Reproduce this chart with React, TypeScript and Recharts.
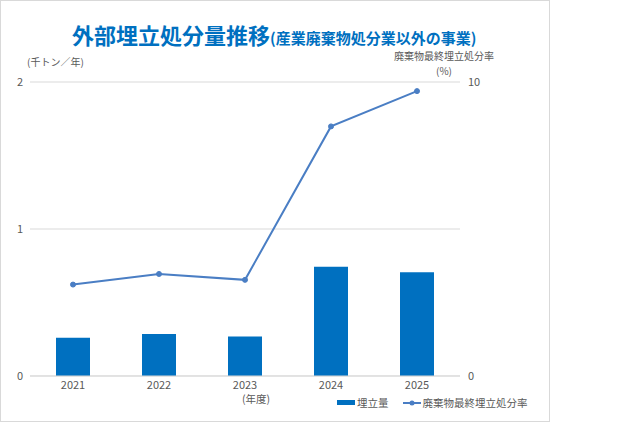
import {
	Bar,
	CartesianGrid,
	ComposedChart,
	Line,
	XAxis,
	YAxis,
} from "recharts";

const years = ["2021", "2022", "2023", "2024", "2025"];
const landfillAmount = [0.26, 0.285, 0.268, 0.744, 0.706]; // 千トン／年
const landfillRate = [3.11, 3.47, 3.27, 8.49, 9.69]; // %
const leftTicks = [0, 1, 2];
const rightTicks = [0, 10];

const data = years.map((year, i) => ({
	year,
	amount: landfillAmount[i],
	rate: landfillRate[i],
}));

const COLORS = {
	bar: "#0070C0",
	line: "#4A7EC4",
	title: "#0070C0",
	text: "#595959",
	grid: "#D9D9D9",
};

const FONT = '"Noto Sans CJK JP", "Noto Sans", sans-serif';

const tickStyle = { fill: COLORS.text, fontSize: 11, fontFamily: FONT };

export default function App() {
	return (
		<div
			style={{
				position: "absolute",
				left: 0,
				top: 0,
				width: 548,
				height: 420,
				border: `1px solid ${COLORS.grid}`,
				background: "#fff",
				fontFamily: FONT,
			}}
		>
			<div
				style={{
					position: "absolute",
					left: 71,
					top: 22,
					whiteSpace: "nowrap",
					color: COLORS.title,
					fontWeight: "bold",
					lineHeight: 1,
				}}
			>
				<span style={{ fontSize: 22 }}>外部埋立処分量推移</span>
				<span style={{ fontSize: 15 }}>(産業廃棄物処分業以外の事業)</span>
			</div>
			<div
				style={{
					position: "absolute",
					left: 26,
					top: 53,
					fontSize: 10,
					color: COLORS.text,
					whiteSpace: "nowrap",
				}}
			>
				(千トン／年)
			</div>
			<div
				style={{
					position: "absolute",
					left: 393,
					top: 49,
					width: 100,
					fontSize: 10,
					lineHeight: "12px",
					color: COLORS.text,
					textAlign: "center",
					whiteSpace: "nowrap",
				}}
			>
				廃棄物最終埋立処分率
			</div>
			<div
				style={{
					position: "absolute",
					left: 393,
					top: 64,
					width: 100,
					fontSize: 10,
					lineHeight: "12px",
					color: COLORS.text,
					textAlign: "center",
					whiteSpace: "nowrap",
				}}
			>
				(%)
			</div>
			<div
				style={{
					position: "absolute",
					left: 241,
					top: 390,
					fontSize: 10.5,
					color: COLORS.text,
					whiteSpace: "nowrap",
				}}
			>
				(年度)
			</div>

			<ComposedChart
				width={548}
				height={420}
				data={data}
				margin={{ top: 81, right: 59, left: 0, bottom: 25 }}
			>
				<CartesianGrid
					vertical={false}
					stroke={COLORS.grid}
					yAxisId="left"
				/>
				<XAxis
					dataKey="year"
					height={20}
					tick={tickStyle}
					tickLine={false}
					tickSize={0}
					tickMargin={5}
					axisLine={{ stroke: COLORS.grid }}
				/>
				<YAxis
					yAxisId="left"
					width={29}
					domain={[0, 2]}
					ticks={leftTicks}
					tick={tickStyle}
					tickLine={false}
					tickSize={0}
					tickMargin={7}
					axisLine={false}
				/>
				<YAxis
					yAxisId="right"
					orientation="right"
					width={30}
					domain={[0, 10]}
					ticks={rightTicks}
					tick={{ ...tickStyle, textAnchor: "start" }}
					tickLine={false}
					tickSize={0}
					tickMargin={8}
					axisLine={false}
				/>
				<Bar
					yAxisId="left"
					dataKey="amount"
					name="埋立量"
					fill={COLORS.bar}
					barSize={34}
					isAnimationActive={false}
				/>
				<Line
					yAxisId="right"
					dataKey="rate"
					name="廃棄物最終埋立処分率"
					stroke={COLORS.line}
					strokeWidth={2}
					dot={{ r: 2.5, fill: COLORS.line, stroke: COLORS.line, strokeWidth: 1 }}
					isAnimationActive={false}
				/>
			</ComposedChart>

			<div
				style={{
					position: "absolute",
					left: 336,
					top: 394,
					display: "flex",
					alignItems: "center",
					fontSize: 10.5,
					color: COLORS.text,
					whiteSpace: "nowrap",
				}}
			>
				<div style={{ width: 18, height: 5, background: COLORS.bar, marginRight: 2 }} />
				<span style={{ marginRight: 14 }}>埋立量</span>
				<svg width={18} height={8} style={{ marginRight: 2 }}>
					<line x1={0} y1={4} x2={18} y2={4} stroke={COLORS.line} strokeWidth={2} />
					<circle cx={9} cy={4} r={2.5} fill={COLORS.line} />
				</svg>
				<span>廃棄物最終埋立処分率</span>
			</div>
		</div>
	);
}
